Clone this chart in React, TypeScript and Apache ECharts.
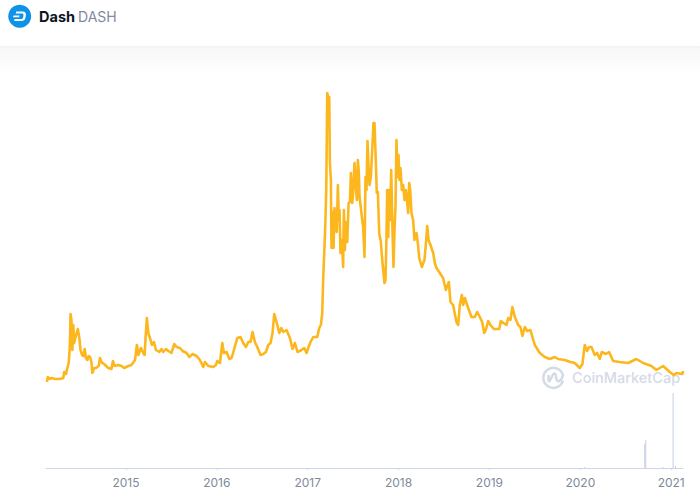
import React, { useEffect, useRef } from "react";
import * as echarts from "echarts";

const yearTicks = [2015, 2016, 2017, 2018, 2019, 2020, 2021];
const priceYears = [
  2014.13, 2014.14, 2014.16, 2014.18, 2014.22, 2014.27, 2014.31, 2014.32, 2014.34, 2014.355, 2014.37, 2014.38, 2014.385, 2014.39, 2014.4, 2014.41, 2014.42, 2014.43, 2014.446, 2014.457, 2014.47, 2014.487, 2014.5, 2014.516, 2014.53, 2014.545, 2014.56, 2014.575, 2014.59, 2014.604, 2014.62, 2014.63, 2014.65, 2014.67, 2014.7, 2014.714, 2014.73, 2014.77, 2014.806, 2014.84, 2014.857, 2014.875, 2014.916, 2014.952, 2014.98,
  2015.026, 2015.06, 2015.1, 2015.12, 2015.136, 2015.165, 2015.19, 2015.205, 2015.216, 2015.23, 2015.246, 2015.264, 2015.286, 2015.308, 2015.33, 2015.367, 2015.392, 2015.41, 2015.44, 2015.466, 2015.5, 2015.532, 2015.557, 2015.594, 2015.623, 2015.667, 2015.697, 2015.733, 2015.777, 2015.814, 2015.85, 2015.87, 2015.906, 2015.96, 2015.99,
  2016.005, 2016.034, 2016.06, 2016.078, 2016.107, 2016.137, 2016.162, 2016.188, 2016.225, 2016.261, 2016.29, 2016.32, 2016.346, 2016.371, 2016.393, 2016.419, 2016.445, 2016.467, 2016.481, 2016.511, 2016.54, 2016.566, 2016.591, 2016.613, 2016.632, 2016.657, 2016.687, 2016.709, 2016.731, 2016.767, 2016.804, 2016.833, 2016.859, 2016.888, 2016.932, 2016.962, 2016.987,
  2017.006, 2017.031, 2017.061, 2017.105, 2017.127, 2017.145, 2017.16, 2017.17, 2017.193, 2017.204, 2017.215, 2017.226, 2017.237, 2017.244, 2017.255, 2017.262, 2017.277, 2017.284, 2017.295, 2017.306, 2017.32, 2017.332, 2017.343, 2017.35, 2017.361, 2017.376, 2017.39, 2017.398, 2017.409, 2017.42, 2017.435, 2017.45, 2017.465, 2017.475, 2017.49, 2017.5, 2017.515, 2017.53, 2017.541, 2017.552, 2017.563, 2017.57, 2017.585, 2017.6, 2017.61, 2017.625, 2017.636, 2017.647, 2017.658, 2017.67, 2017.68, 2017.695, 2017.71, 2017.724, 2017.735, 2017.75, 2017.76, 2017.772, 2017.787, 2017.805, 2017.82, 2017.845, 2017.856, 2017.867, 2017.875, 2017.886, 2017.897, 2017.908, 2017.919, 2017.933, 2017.944, 2017.955, 2017.966, 2017.977, 2017.988, 2017.999,
  2018.01, 2018.021, 2018.036, 2018.051, 2018.065, 2018.08, 2018.106, 2018.117, 2018.128, 2018.142, 2018.16, 2018.175, 2018.197, 2018.212, 2018.227, 2018.256, 2018.285, 2018.304, 2018.315, 2018.33, 2018.351, 2018.381, 2018.399, 2018.417, 2018.454, 2018.49, 2018.52, 2018.553, 2018.571, 2018.6, 2018.637, 2018.656, 2018.674, 2018.696, 2018.711, 2018.729, 2018.766, 2018.802, 2018.839, 2018.865, 2018.894, 2018.92, 2018.942, 2018.96, 2018.986,
  2019.011, 2019.048, 2019.107, 2019.125, 2019.187, 2019.206, 2019.231, 2019.253, 2019.279, 2019.316, 2019.341, 2019.363, 2019.389, 2019.415, 2019.451, 2019.473, 2019.499, 2019.554, 2019.609, 2019.664, 2019.719, 2019.756, 2019.829, 2019.891, 2019.939, 2019.994,
  2020.023, 2020.049, 2020.075, 2020.097, 2020.122, 2020.159, 2020.185, 2020.214, 2020.236, 2020.28, 2020.317, 2020.361, 2020.434, 2020.526, 2020.617, 2020.691, 2020.782, 2020.837, 2020.911, 2020.948, 2020.984,
  2021.028, 2021.058, 2021.124, 2021.131,
];
const priceValues = [
  86, 91, 89, 90, 89, 89, 90, 96, 94, 100, 105, 118, 131, 154, 148, 118, 143, 125, 131, 135, 139, 130, 118, 113, 112, 119, 110, 108, 112, 111, 106, 95, 100, 100, 102, 110, 106, 103, 100, 99, 107, 102, 103, 102, 100,
  102, 103, 108, 123, 113, 120, 115, 113, 131, 150, 135, 130, 123, 126, 118, 116, 119, 116, 119, 117, 115, 124, 121, 120, 117, 115, 111, 114, 112, 108, 101, 106, 102, 101, 103,
  107, 105, 125, 115, 116, 109, 110, 118, 130, 131, 125, 121, 126, 126, 136, 126, 121, 116, 113, 114, 116, 123, 125, 135, 154, 146, 135, 140, 136, 138, 130, 119, 125, 116, 118, 120, 115,
  120, 126, 131, 131, 140, 143, 155, 188, 241, 278, 375, 371, 371, 305, 288, 220, 256, 220, 260, 245, 236, 283, 248, 258, 215, 228, 201, 258, 218, 246, 226, 265, 266, 295, 265, 275, 305, 281, 268, 308, 295, 271, 260, 248, 241, 211, 291, 278, 327, 301, 283, 291, 318, 345, 345, 305, 275, 276, 235, 226, 208, 185, 188, 231, 278, 231, 278, 248, 298, 238, 201, 238, 261, 328, 291, 313,
  288, 300, 278, 283, 268, 278, 255, 285, 278, 255, 248, 228, 235, 225, 210, 201, 208, 228, 242, 228, 223, 215, 205, 200, 195, 190, 178, 186, 166, 163, 146, 143, 163, 173, 163, 170, 160, 151, 151, 156, 151, 146, 135, 138, 147,
  143, 139, 139, 147, 143, 150, 148, 161, 151, 143, 141, 132, 141, 137, 138, 131, 123, 115, 111, 109, 111, 109, 108, 106, 105, 100,
  104, 123, 117, 121, 121, 113, 115, 109, 116, 114, 116, 107, 106, 105, 109, 105, 102, 98, 102, 99, 96,
  93, 95, 94, 97,
];
const volumeYears = [2020.049, 2020.709, 2020.72, 2020.911, 2021.021, 2021.047];
const volumeValues = [1, 24, 28, 1, 75, 2];

const symbolPath =
  "M6 0H17C22 0 24 3 23.5 6L22.5 11C22 14 19 16 15 16H2L3 12.5H14.5C16.5 12.5 18 11.5 18.5 10L19 6C19.2 4.5 18.5 3.5 16.5 3.5H5ZM1 6.5H12L11 9.5H0Z";
const ringPath =
  "M21 14.5A10 10 0 1 1 21 9.2C20 12.5 17.8 15.5 15.8 15.2C14 15 14.5 11 13.5 8.5C13 7 11.8 7 11 8.5L7.8 14.6C7.3 15.5 6.5 15.2 6.5 14.2L6.5 9";

export default function App() {
  const ref = useRef<HTMLDivElement>(null);
  useEffect(() => {
    echarts.graphic.registerShape("dashMark", echarts.graphic.extendPath(symbolPath, {}) as any);
    echarts.graphic.registerShape("cmcMark", echarts.graphic.extendPath(ringPath, {}) as any);
    const chart = echarts.init(ref.current!, null, { renderer: "svg" });
    chart.setOption({
      animation: false,
      backgroundColor: "#ffffff",
      grid: { left: 46, right: 17, top: 68, bottom: 28 },
      xAxis: {
        type: "value",
        min: 2014.12,
        max: 2021.13,
        splitLine: { show: false },
        axisLine: { show: true, lineStyle: { color: "#cfd6e4", width: 1 } },
        axisTick: { show: true, length: 2, lineStyle: { color: "#cfd6e4" }, customValues: yearTicks },
        axisLabel: {
          color: "#808a9d",
          fontFamily: "Inter",
          fontSize: 12,
          margin: 8,
          customValues: yearTicks,
          formatter: (v: number) => String(v),
        },
      },
      yAxis: { type: "value", min: 0, max: 400, show: false },
      series: [
        {
          type: "bar",
          data: volumeYears.map((y, i) => [y, volumeValues[i]]),
          barWidth: 1,
          itemStyle: { color: "#c5cee0" },
          silent: true,
        },
        {
          type: "line",
          data: priceYears.map((y, i) => [y, priceValues[i]]),
          showSymbol: false,
          symbol: "none",
          smooth: false,
          lineStyle: { color: "#fdb71e", width: 2.6, join: "round" },
          silent: true,
          z: 5,
        },
      ],
      graphic: [
        {
          type: "rect",
          shape: { x: 0, y: 46, width: 700, height: 30 },
          style: {
            fill: new echarts.graphic.LinearGradient(0, 0, 0, 1, [
              { offset: 0, color: "#f1f2f4" },
              { offset: 0.12, color: "#f8f8f9" },
              { offset: 1, color: "#ffffff" },
            ]),
          },
          silent: true,
        },
        { type: "circle", shape: { cx: 19.7, cy: 16.3, r: 11.5 }, style: { fill: "#0f93e6" } },
        { type: "dashMark", x: 13, y: 11.5, scaleX: 0.55, scaleY: 0.6, style: { fill: "#ffffff" } },
        {
          type: "text",
          x: 39,
          y: 16,
          style: { text: "Dash", fill: "#0d1421", font: "700 14.5px Inter", verticalAlign: "middle" },
        },
        {
          type: "text",
          x: 78,
          y: 16,
          style: { text: "DASH", fill: "#808a9d", font: "400 14px Inter", verticalAlign: "middle" },
        },
        {
          type: "cmcMark",
          x: 542,
          y: 366,
          style: { fill: "none", stroke: "#d4dae7", lineWidth: 2.5 },
          z: -1,
        },
        {
          type: "text",
          x: 572,
          y: 377.5,
          z: -1,
          style: { text: "CoinMarketCap", fill: "#d4dae7", font: "500 14.5px Inter", verticalAlign: "middle" },
        },
      ],
    });
    return () => chart.dispose();
  }, []);
  return <div ref={ref} style={{ position: "absolute", left: 0, top: 0, width: 700, height: 496 }} />;
}
